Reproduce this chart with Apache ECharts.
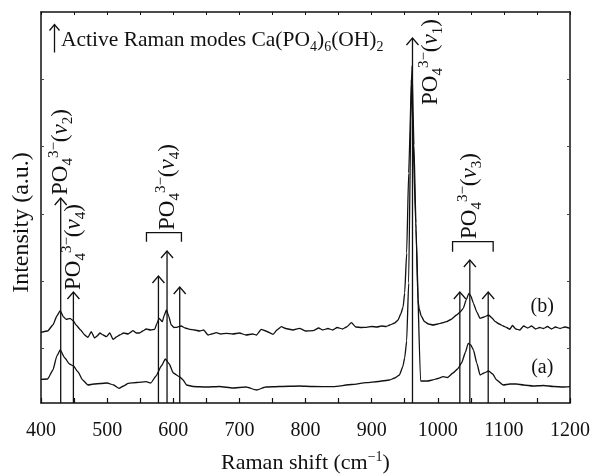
<!DOCTYPE html>
<html>
<head>
<meta charset="utf-8">
<script src="https://cdn.jsdelivr.net/npm/echarts@6/dist/echarts.min.js"></script>
<style>html,body{margin:0;padding:0;background:#fff}#c{width:592px;height:476px}</style>
</head>
<body>
<div id="c"></div>
<script>
// ---- data ----
const specA = [[400,23.7],[410,24],[418,33],[424,47],[429,53],[436,45],[443,39],[449,37],[456,31],[463,23],[471,18],[480,19],[490,19.5],[500,20],[510,18],[518,14.7],[525,17],[532,19.7],[545,20.5],[559,21.3],[566,20],[574,27],[582,37],[588,44],[594,39],[600,30],[610,26],[615,23],[620,18],[630,16.5],[650,16],[670,16.5],[690,15],[710,16],[726,13],[740,16],[760,16.5],[791,17],[810,16.5],[842,16.3],[870,18.5],[892,20.3],[910,21.5],[927,23],[935,25],[942,28],[947,36],[950,45],[953,62],[956,120],[960,323],[967,174],[974,22],[985,22],[992,23],[1000,24.5],[1008,26.3],[1015,25.5],[1023,30],[1030,34],[1036,40],[1042,51],[1046,59.7],[1050,58],[1054,53],[1059,40],[1064,28],[1070,30],[1077,32],[1083,29],[1089,23],[1099,18],[1109,19],[1119,19],[1130,18],[1144,17],[1160,17.5],[1175,16.5],[1190,16],[1200,16.3]];
const specB = [[400,70.7],[410,72],[418,78],[424,87],[429,92.3],[434,86],[438,83.7],[444,84.7],[449,82],[453,78],[460,73],[466,68],[471,65.7],[476,71.3],[481,65],[485,67],[489,70],[494,68],[499,66.3],[504,70],[509,63.7],[514,66],[519,68],[525,70],[532,69],[539,72.3],[544,70],[549,70],[554,72],[559,74],[566,73],[572,73.7],[575,79],[578.6,84.7],[583.5,81.3],[586,87],[589.7,93],[593,87],[597,78],[601,75.5],[605,75.7],[612,77],[618,75],[625,73.7],[632,73],[640,72],[646,73],[652.6,68],[658,69],[665,70.3],[672,69],[680,69.7],[690,69],[700,70],[710,68],[720,69],[726,68],[733,73.7],[740,72],[751,68.7],[757,73],[763.6,76.3],[770,74.5],[781,73],[791,74.7],[800,72],[811.5,72.3],[820,75],[826,73],[834,74.5],[841,73],[848,75.5],[856,74],[862,76],[869.5,80.3],[876,76],[885,75.5],[892,75.7],[900,76.5],[908,76],[915,77],[922,76.5],[927.5,78],[935,80],[940,83],[944,89],[947.6,96],[950,110],[953,150],[956,230],[961,337],[964,258],[967,180],[970,103],[972,94],[975,87],[980,81.3],[986,79],[993,78],[1000,79],[1006,80],[1013,81.3],[1020,83.5],[1028.5,88],[1034,91],[1038.6,94.7],[1043,103],[1047,109.7],[1050,107],[1054,99.7],[1059,91],[1064,84.7],[1070,86],[1077,88],[1082,85],[1087,81.3],[1093,79],[1099,77],[1104,75.5],[1109,73.7],[1113,77.5],[1118,74],[1124,73],[1130,77],[1136,75],[1142,77],[1148,74],[1154,75.5],[1160,74.5],[1166,76.5],[1172,74],[1178,76],[1185,74.5],[1192,76],[1200,74.7]];
const seriesNames = ['(a)', '(b)'];
const seriesTagX = [1158, 1158];
const seriesTagY = [35, 96];
const arrowX = [429.8, 449, 577.6, 590.6, 609.8, 961.8, 1033.4, 1048.5, 1076.3];
const arrowTip = [205, 111, 127, 152, 116, 365, 111, 143, 111];
const modeLabelX = [430, 449.5, 591.7, 989.6, 1048.5];
const modeLabelY = [208, 113, 173, 298, 164];
const modeIndex = ['2', '4', '4', '1', '3'];
const bracketX1 = [559.5, 1022.4];
const bracketX2 = [612.4, 1083.8];
const bracketTop = [170.3, 161.3];
const bracketBottom = [161.3, 151.3];
const xTicks = { min: 400, max: 1200, step: 100 };
const yRange = { min: 0, max: 391 };
const titleText = 'Active Raman modes Ca(PO{s|4}){s|6}(OH){s|2}';
const xName = 'Raman shift (cm{p|−1})';
const yName = 'Intensity (a.u.)';

// ---- chart ----
const FONT = '"Liberation Serif", "Times New Roman", serif';
const INK = '#111';
const chart = echarts.init(document.getElementById('c'), null, { renderer: 'canvas' });

const richLabel = {
  s: { fontSize: 15, lineHeight: 15, verticalAlign: 'bottom', fontFamily: FONT, fill: INK, color: INK },
  p: { fontSize: 15, lineHeight: 15, verticalAlign: 'top', fontFamily: FONT, fill: INK, color: INK },
  i: { fontSize: 23, fontStyle: 'italic', fontFamily: FONT, fill: INK, color: INK }
};

const option = {
  animation: false,
  backgroundColor: '#fff',
  grid: { left: 41, right: 22, top: 12, bottom: 73, containLabel: false, outerBoundsMode: 'none' },
  xAxis: [
    {
      type: 'value', min: xTicks.min, max: xTicks.max, interval: xTicks.step, position: 'bottom',
      axisLine: { onZero: false, lineStyle: { color: INK, width: 1.5 } },
      axisTick: { inside: true, length: 5, lineStyle: { color: INK, width: 1.2 } },
      minorTick: { show: true, splitNumber: 2, length: 5, lineStyle: { color: INK, width: 1.2 } },
      axisLabel: { fontFamily: FONT, fontSize: 20, color: INK, margin: 18, formatter: function (v) { return String(v); } },
      splitLine: { show: false },
      name: xName, nameLocation: 'middle', nameGap: 47,
      nameTextStyle: { fontFamily: FONT, fontSize: 22, color: INK, lineHeight: 26,
        rich: { p: { fontSize: 14, lineHeight: 14, verticalAlign: 'top', fontFamily: FONT, color: INK } } }
    },
    {
      type: 'value', min: xTicks.min, max: xTicks.max, interval: xTicks.step, position: 'top',
      axisLine: { onZero: false, lineStyle: { color: INK, width: 1.5 } },
      axisTick: { inside: true, length: 3, lineStyle: { color: INK, width: 1 } },
      minorTick: { show: true, splitNumber: 2, length: 3, lineStyle: { color: INK, width: 1 } },
      axisLabel: { show: false }, splitLine: { show: false }
    }
  ],
  yAxis: [
    {
      type: 'value', min: yRange.min, max: yRange.max, position: 'left',
      axisLine: { show: true, onZero: false, lineStyle: { color: INK, width: 1.5 } },
      axisTick: { show: false }, axisLabel: { show: false }, splitLine: { show: false },
      name: yName, nameLocation: 'middle', nameGap: 7, nameRotate: 90,
      nameTextStyle: { fontFamily: FONT, fontSize: 24, color: INK, padding: [0, 30, 0, 0] }
    },
    {
      type: 'value', min: yRange.min, max: yRange.max, inverse: true, interval: 67.3, position: 'left',
      axisLine: { show: false }, axisTick: { inside: true, length: 3, lineStyle: { color: '#444', width: 1 } },
      axisLabel: { show: false }, splitLine: { show: false }
    },
    {
      type: 'value', min: yRange.min, max: yRange.max, inverse: true, interval: 67.3, position: 'right',
      axisLine: { show: true, onZero: false, lineStyle: { color: INK, width: 1.5 } },
      axisTick: { inside: true, length: 3, lineStyle: { color: '#444', width: 1 } },
      axisLabel: { show: false }, splitLine: { show: false }
    }
  ],
  series: [
    { name: seriesNames[0], type: 'line', data: specA, showSymbol: false, symbol: 'none',
      smooth: 0.15, smoothMonotone: 'x', lineStyle: { color: INK, width: 1.3 }, z: 3 },
    { name: seriesNames[1], type: 'line', data: specB, showSymbol: false, symbol: 'none',
      smooth: 0.15, smoothMonotone: 'x', lineStyle: { color: INK, width: 1.3 }, z: 3 },
    { // arrows marking Raman modes
      type: 'custom', clip: false, z: 4,
      data: arrowX.map((x, i) => [x, arrowTip[i]]),
      renderItem: function (params, api) {
        const p0 = api.coord([api.value(0), yRange.min]);
        const p1 = api.coord([api.value(0), api.value(1)]);
        return { type: 'group', children: [
          { type: 'line', shape: { x1: p0[0], y1: p0[1], x2: p1[0], y2: p1[1] }, style: { stroke: INK, lineWidth: 1.3 } },
          { type: 'polyline', shape: { points: [[p1[0] - 6, p1[1] + 7], [p1[0], p1[1]], [p1[0] + 6, p1[1] + 7]] },
            style: { stroke: INK, fill: null, lineWidth: 1.3 } }
        ] };
      }
    },
    { // brackets
      type: 'custom', clip: false, z: 4,
      data: bracketX1.map((x, i) => [x, bracketX2[i], bracketTop[i], bracketBottom[i]]),
      renderItem: function (params, api) {
        const a = api.coord([api.value(0), api.value(3)]);
        const b = api.coord([api.value(0), api.value(2)]);
        const c = api.coord([api.value(1), api.value(2)]);
        const d = api.coord([api.value(1), api.value(3)]);
        return { type: 'polyline', shape: { points: [a, b, c, d] }, style: { stroke: INK, fill: null, lineWidth: 1.3 } };
      }
    },
    { // rotated mode labels
      type: 'custom', clip: false, z: 5,
      data: modeLabelX.map((x, i) => [x, modeLabelY[i], modeIndex[i]]),
      renderItem: function (params, api) {
        const p = api.coord([api.value(0), api.value(1)]);
        const k = modeIndex[params.dataIndex];
        return { type: 'text', x: p[0], y: p[1], rotation: Math.PI / 2,
          style: { text: 'PO{s|4}{p|3−}({i|ν}{s|' + k + '})', rich: richLabel, fontFamily: FONT, fontSize: 23,
            lineHeight: 29, fill: INK, align: 'left', verticalAlign: 'middle' } };
      }
    },
    { // series tags
      type: 'custom', clip: false, z: 5,
      data: seriesTagX.map((x, i) => [x, seriesTagY[i]]),
      renderItem: function (params, api) {
        const p = api.coord([api.value(0), api.value(1)]);
        return { type: 'text', x: p[0], y: p[1],
          style: { text: seriesNames[params.dataIndex], fontFamily: FONT, fontSize: 20, fill: INK, align: 'center', verticalAlign: 'middle' } };
      }
    }
  ],
  graphic: [
    { type: 'group', left: 47, top: 22, children: [
      { type: 'line', shape: { x1: 6, y1: 0, x2: 6, y2: 28 }, style: { stroke: INK, lineWidth: 1.3 } },
      { type: 'polyline', shape: { points: [[1, 6], [6, 0], [11, 6]] }, style: { stroke: INK, fill: null, lineWidth: 1.3 } }
    ] },
    { type: 'text', left: 61, top: 27,
      style: { text: titleText, fontFamily: FONT, fontSize: 21.5, lineHeight: 27, fill: INK,
        rich: { s: { fontSize: 14, lineHeight: 14, verticalAlign: 'bottom', fontFamily: FONT, fill: INK } } } }
  ]
};
chart.setOption(option);
</script>
</body>
</html>
